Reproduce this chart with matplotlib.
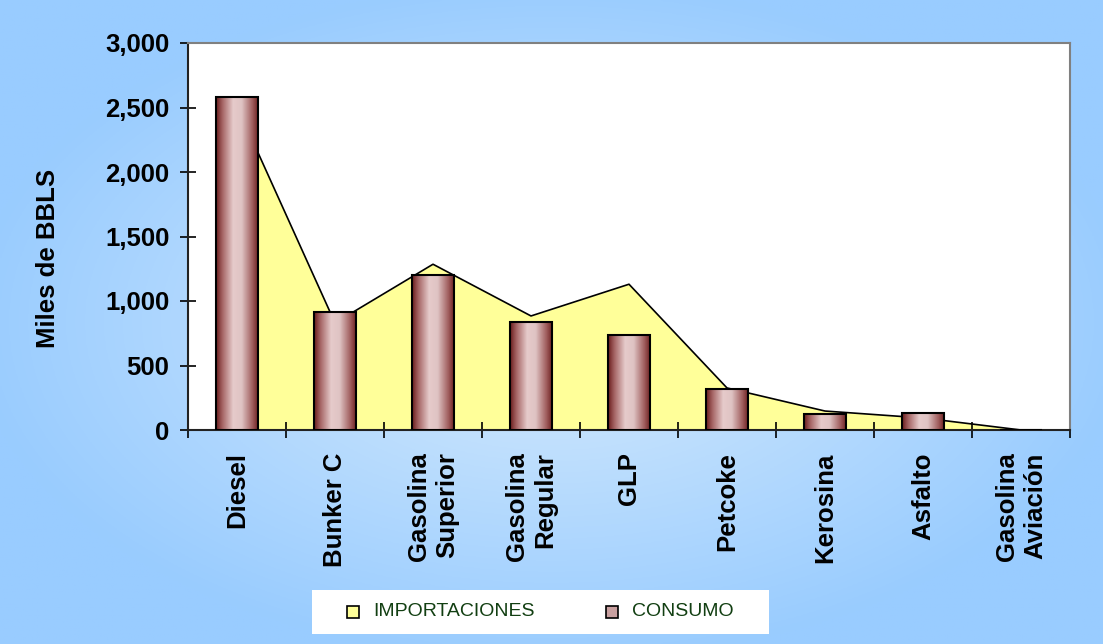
import matplotlib.pyplot as plt
import numpy as np
from matplotlib.colors import LinearSegmentedColormap
from matplotlib.patches import Rectangle
from matplotlib.ticker import FuncFormatter

# ============================================================
# DATOS
# ============================================================

productos = [
    "Diesel",
    "Bunker C",
    "Gasolina\nSuperior",
    "Gasolina\nRegular",
    "GLP",
    "Petcoke",
    "Kerosina",
    "Asfalto",
    "Gasolina\nAviación",
]
importaciones = [2510, 830, 1285, 884, 1130, 326, 147, 93, 0]
consumo = [2580, 915, 1202, 837, 736, 318, 124, 132, 0]
series = ["IMPORTACIONES", "CONSUMO"]

plt.rcParams["font.family"] = ["Liberation Sans", "DejaVu Sans"]

W, H = 1103, 644
fig = plt.figure(figsize=(W / 100, H / 100), dpi=100)

# ------------------------------------------------------------
# Fondo degradado azul
# ------------------------------------------------------------
fondo = fig.add_axes([0, 0, 1, 1], zorder=-10)
yy, xx = np.mgrid[-1:1:300j, -1:1:500j]
dist = np.clip(np.sqrt(xx ** 2 * 0.9 + yy ** 2 * 0.9), 0, 1)
c_centro = np.array([0.84, 0.92, 0.99])
c_borde = np.array([0.60, 0.80, 1.00])
img = c_centro[None, None, :] * (1 - dist[..., None]) + c_borde[None, None, :] * dist[..., None]
fondo.imshow(img, aspect="auto", extent=[0, 1, 0, 1])
fondo.set_xlim(0, 1)
fondo.set_ylim(0, 1)
fondo.set_axis_off()

# ------------------------------------------------------------
# Área de gráfico
# ------------------------------------------------------------
ax = fig.add_axes([188 / W, 1 - 430 / H, (1070 - 188) / W, (430 - 43) / H])
ax.set_facecolor("white")

x = np.arange(len(productos))

ax.fill_between(x, importaciones, color="#FFFF99", zorder=1, linewidth=0)
ax.plot(x, importaciones, color="black", linewidth=1.2, zorder=2)

cmap_barra = LinearSegmentedColormap.from_list(
    "barra",
    [(0, "#6A1C1C"), (0.15, "#A66666"), (0.4, "#E6CBCB"),
     (0.6, "#DFC3C3"), (0.85, "#A05E5E"), (1, "#6A1C1C")],
)
gradiente = np.linspace(0, 1, 200)[None, :]

barras = ax.bar(x, consumo, width=0.43, facecolor="none", edgecolor="black",
                linewidth=1.5, zorder=4)
for barra in barras:
    if barra.get_height() <= 0:
        continue
    x0 = barra.get_x()
    ax.imshow(gradiente, cmap=cmap_barra, aspect="auto", zorder=3,
              extent=[x0, x0 + barra.get_width(), 0, barra.get_height()])

ax.set_xlim(-0.5, len(productos) - 0.5)
ax.set_ylim(0, 3000)

# Ejes
ax.set_yticks(np.arange(0, 3001, 500))
ax.yaxis.set_major_formatter(FuncFormatter(lambda v, p: f"{v:,.0f}"))
ax.tick_params(axis="y", direction="inout", length=11, width=1.2,
               labelsize=18.5, pad=8)
for lbl in ax.get_yticklabels():
    lbl.set_fontweight("bold")

ax.set_xticks(np.arange(-0.5, len(productos), 1.0))
ax.set_xticklabels([])
ax.set_xticks(x, minor=True)
ax.set_xticklabels(productos, minor=True, rotation=90, fontsize=18.5,
                   fontweight="bold", va="top", ha="center",
                   multialignment="right")
ax.tick_params(axis="x", which="major", direction="inout", length=11, width=1.2)
ax.tick_params(axis="x", which="minor", length=0, pad=16)

for lado in ["left", "bottom"]:
    ax.spines[lado].set_color("#222222")
    ax.spines[lado].set_linewidth(1.5)
for lado in ["top", "right"]:
    ax.spines[lado].set_color("#808080")
    ax.spines[lado].set_linewidth(1.5)

fig.text(48 / W, 1 - 258 / H, "Miles de BBLS", rotation=90, fontsize=18.5,
         fontweight="bold", ha="center", va="center")

# ------------------------------------------------------------
# Leyenda
# ------------------------------------------------------------
fig.patches.append(Rectangle((312 / W, 1 - 634 / H), (769 - 312) / W, 44 / H,
                             transform=fig.transFigure, facecolor="white",
                             edgecolor="none", zorder=1))
muestras = [("#FFFF99", 347, 373), ("#C9A0A0", 606, 632)]
for nombre, (color, xs, xt) in zip(series, muestras):
    fig.patches.append(Rectangle((xs / W, 1 - 618 / H), 12 / W, 12 / H,
                                 transform=fig.transFigure, facecolor=color,
                                 edgecolor="black", linewidth=1.2, zorder=2))
    fig.text(xt / W, 1 - 612 / H, nombre, fontsize=14, color="#123F12",
             ha="left", va="center", zorder=3)

plt.savefig("out.png", dpi=100)
